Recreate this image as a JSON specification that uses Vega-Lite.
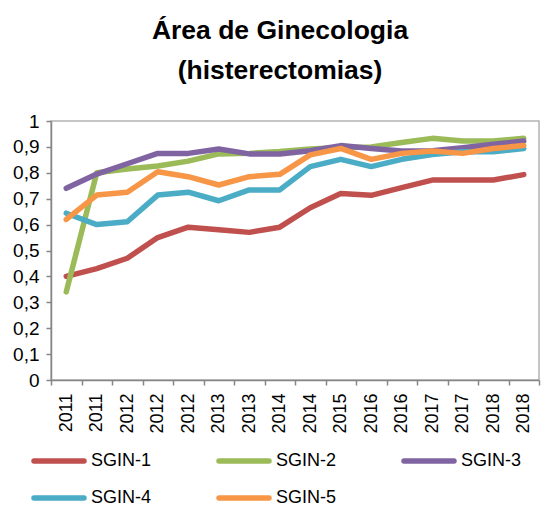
{
  "$schema": "https://vega.github.io/schema/vega-lite/v6.json",
  "width": 488,
  "height": 259,
  "autosize": {"type": "none"},
  "padding": {"left": 51, "top": 121, "right": 5, "bottom": 125},
  "background": "white",
  "title": {
    "text": ["Área de Ginecologia", "(histerectomias)"],
    "font": "Liberation Sans",
    "fontSize": 26.5,
    "fontWeight": "bold",
    "color": "#000000",
    "lineHeight": 40,
    "anchor": "middle",
    "frame": "group",
    "dx": -15,
    "offset": 28
  },
  "config": {
    "view": {"stroke": "#b3b3b3", "strokeWidth": 1.5},
    "font": "Liberation Sans"
  },
  "data": {
    "values": [
      {"periodo": "2011-1", "serie": "SGIN-1", "valor": 0.40},
      {"periodo": "2011-2", "serie": "SGIN-1", "valor": 0.43},
      {"periodo": "2012-1", "serie": "SGIN-1", "valor": 0.47},
      {"periodo": "2012-2", "serie": "SGIN-1", "valor": 0.55},
      {"periodo": "2012-3", "serie": "SGIN-1", "valor": 0.59},
      {"periodo": "2013-1", "serie": "SGIN-1", "valor": 0.58},
      {"periodo": "2013-2", "serie": "SGIN-1", "valor": 0.57},
      {"periodo": "2014-1", "serie": "SGIN-1", "valor": 0.59},
      {"periodo": "2014-2", "serie": "SGIN-1", "valor": 0.665},
      {"periodo": "2015-1", "serie": "SGIN-1", "valor": 0.72},
      {"periodo": "2016-1", "serie": "SGIN-1", "valor": 0.713},
      {"periodo": "2016-2", "serie": "SGIN-1", "valor": 0.743},
      {"periodo": "2017-1", "serie": "SGIN-1", "valor": 0.772},
      {"periodo": "2017-2", "serie": "SGIN-1", "valor": 0.772},
      {"periodo": "2018-1", "serie": "SGIN-1", "valor": 0.772},
      {"periodo": "2018-2", "serie": "SGIN-1", "valor": 0.793},

      {"periodo": "2011-1", "serie": "SGIN-2", "valor": 0.34},
      {"periodo": "2011-2", "serie": "SGIN-2", "valor": 0.80},
      {"periodo": "2012-1", "serie": "SGIN-2", "valor": 0.815},
      {"periodo": "2012-2", "serie": "SGIN-2", "valor": 0.826},
      {"periodo": "2012-3", "serie": "SGIN-2", "valor": 0.845},
      {"periodo": "2013-1", "serie": "SGIN-2", "valor": 0.873},
      {"periodo": "2013-2", "serie": "SGIN-2", "valor": 0.875},
      {"periodo": "2014-1", "serie": "SGIN-2", "valor": 0.882},
      {"periodo": "2014-2", "serie": "SGIN-2", "valor": 0.892},
      {"periodo": "2015-1", "serie": "SGIN-2", "valor": 0.898},
      {"periodo": "2016-1", "serie": "SGIN-2", "valor": 0.90},
      {"periodo": "2016-2", "serie": "SGIN-2", "valor": 0.917},
      {"periodo": "2017-1", "serie": "SGIN-2", "valor": 0.933},
      {"periodo": "2017-2", "serie": "SGIN-2", "valor": 0.923},
      {"periodo": "2018-1", "serie": "SGIN-2", "valor": 0.923},
      {"periodo": "2018-2", "serie": "SGIN-2", "valor": 0.933},

      {"periodo": "2011-1", "serie": "SGIN-3", "valor": 0.74},
      {"periodo": "2011-2", "serie": "SGIN-3", "valor": 0.795},
      {"periodo": "2012-1", "serie": "SGIN-3", "valor": 0.835},
      {"periodo": "2012-2", "serie": "SGIN-3", "valor": 0.875},
      {"periodo": "2012-3", "serie": "SGIN-3", "valor": 0.875},
      {"periodo": "2013-1", "serie": "SGIN-3", "valor": 0.892},
      {"periodo": "2013-2", "serie": "SGIN-3", "valor": 0.873},
      {"periodo": "2014-1", "serie": "SGIN-3", "valor": 0.873},
      {"periodo": "2014-2", "serie": "SGIN-3", "valor": 0.885},
      {"periodo": "2015-1", "serie": "SGIN-3", "valor": 0.905},
      {"periodo": "2016-1", "serie": "SGIN-3", "valor": 0.894},
      {"periodo": "2016-2", "serie": "SGIN-3", "valor": 0.884},
      {"periodo": "2017-1", "serie": "SGIN-3", "valor": 0.885},
      {"periodo": "2017-2", "serie": "SGIN-3", "valor": 0.897},
      {"periodo": "2018-1", "serie": "SGIN-3", "valor": 0.91},
      {"periodo": "2018-2", "serie": "SGIN-3", "valor": 0.923},

      {"periodo": "2011-1", "serie": "SGIN-4", "valor": 0.644},
      {"periodo": "2011-2", "serie": "SGIN-4", "valor": 0.60},
      {"periodo": "2012-1", "serie": "SGIN-4", "valor": 0.611},
      {"periodo": "2012-2", "serie": "SGIN-4", "valor": 0.714},
      {"periodo": "2012-3", "serie": "SGIN-4", "valor": 0.725},
      {"periodo": "2013-1", "serie": "SGIN-4", "valor": 0.692},
      {"periodo": "2013-2", "serie": "SGIN-4", "valor": 0.734},
      {"periodo": "2014-1", "serie": "SGIN-4", "valor": 0.734},
      {"periodo": "2014-2", "serie": "SGIN-4", "valor": 0.824},
      {"periodo": "2015-1", "serie": "SGIN-4", "valor": 0.852},
      {"periodo": "2016-1", "serie": "SGIN-4", "valor": 0.824},
      {"periodo": "2016-2", "serie": "SGIN-4", "valor": 0.852},
      {"periodo": "2017-1", "serie": "SGIN-4", "valor": 0.871},
      {"periodo": "2017-2", "serie": "SGIN-4", "valor": 0.881},
      {"periodo": "2018-1", "serie": "SGIN-4", "valor": 0.881},
      {"periodo": "2018-2", "serie": "SGIN-4", "valor": 0.894},

      {"periodo": "2011-1", "serie": "SGIN-5", "valor": 0.62},
      {"periodo": "2011-2", "serie": "SGIN-5", "valor": 0.714},
      {"periodo": "2012-1", "serie": "SGIN-5", "valor": 0.725},
      {"periodo": "2012-2", "serie": "SGIN-5", "valor": 0.804},
      {"periodo": "2012-3", "serie": "SGIN-5", "valor": 0.785},
      {"periodo": "2013-1", "serie": "SGIN-5", "valor": 0.753},
      {"periodo": "2013-2", "serie": "SGIN-5", "valor": 0.785},
      {"periodo": "2014-1", "serie": "SGIN-5", "valor": 0.794},
      {"periodo": "2014-2", "serie": "SGIN-5", "valor": 0.869},
      {"periodo": "2015-1", "serie": "SGIN-5", "valor": 0.894},
      {"periodo": "2016-1", "serie": "SGIN-5", "valor": 0.852},
      {"periodo": "2016-2", "serie": "SGIN-5", "valor": 0.875},
      {"periodo": "2017-1", "serie": "SGIN-5", "valor": 0.884},
      {"periodo": "2017-2", "serie": "SGIN-5", "valor": 0.875},
      {"periodo": "2018-1", "serie": "SGIN-5", "valor": 0.894},
      {"periodo": "2018-2", "serie": "SGIN-5", "valor": 0.905}
    ]
  },
  "mark": {"type": "line", "strokeWidth": 5.5, "strokeCap": "round", "strokeJoin": "round"},
  "encoding": {
    "x": {
      "field": "periodo",
      "type": "ordinal",
      "sort": null,
      "bandPosition": 0.5,
      "scale": {"type": "band", "paddingInner": 0, "paddingOuter": 0},
      "axis": {
        "title": null,
        "tickBand": "extent",
        "labelExpr": "substring(datum.label, 0, 4)",
        "labelAngle": 270,
        "labelAlign": "right",
        "labelBaseline": "middle",
        "labelFont": "Liberation Sans",
        "labelFontSize": 18,
        "labelColor": "#000000",
        "labelPadding": 8,
        "tickSize": 5,
        "tickColor": "#868686",
        "tickWidth": 1.5,
        "domainColor": "#868686",
        "domainWidth": 1.5,
        "grid": false
      }
    },
    "y": {
      "field": "valor",
      "type": "quantitative",
      "scale": {"domain": [0, 1], "nice": false, "zero": true},
      "axis": {
        "title": null,
        "values": [0, 0.1, 0.2, 0.3, 0.4, 0.5, 0.6, 0.7, 0.8, 0.9, 1],
        "labelExpr": "replace(format(datum.value, '.1~f'), '.', ',')",
        "labelFont": "Liberation Sans",
        "labelFontSize": 19,
        "labelColor": "#000000",
        "labelPadding": 7,
        "tickSize": 5,
        "tickColor": "#868686",
        "tickWidth": 1.5,
        "domainColor": "#868686",
        "domainWidth": 1.5,
        "grid": false
      }
    },
    "color": {
      "field": "serie",
      "type": "nominal",
      "scale": {
        "domain": ["SGIN-1", "SGIN-2", "SGIN-3", "SGIN-4", "SGIN-5"],
        "range": ["#C0504D", "#9BBB59", "#8064A2", "#4BACC6", "#F79646"]
      },
      "legend": {
        "title": null,
        "orient": "none",
        "legendX": -1,
        "legendY": 331,
        "direction": "horizontal",
        "columns": 3,
        "gridAlign": "all",
        "symbolType": "M-5,0H5",
        "symbolSize": 100,
        "symbolStrokeWidth": 5.5,
        "labelFont": "Liberation Sans",
        "labelFontSize": 18,
        "labelColor": "#000000",
        "labelOffset": 23,
        "labelLimit": 200,
        "columnPadding": 56,
        "rowPadding": 15,
        "encode": {"symbols": {"update": {"strokeCap": {"value": "round"}}}}
      }
    }
  }
}
